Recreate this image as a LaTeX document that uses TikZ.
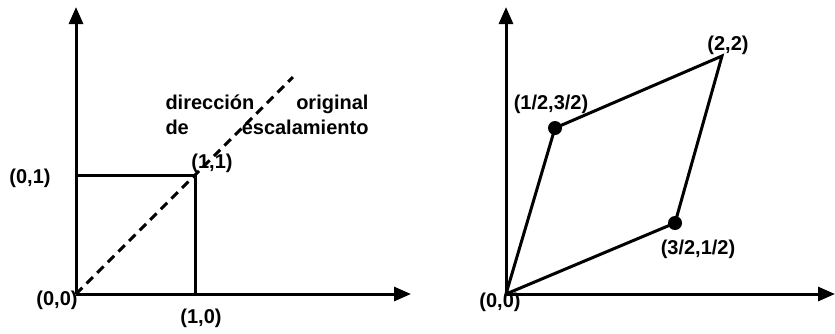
\documentclass[tikz,border=0pt]{standalone}
\usepackage{fontspec}
\setmainfont{Liberation Sans}
\usetikzlibrary{arrows.meta}

\tikzset{
  lbl/.style={font=\bfseries\fontsize{20}{25}\selectfont, inner sep=0pt},
  dot/.style={circle, fill, minimum size=14pt, inner sep=0pt},
}

\begin{document}
\begin{tikzpicture}[x=1pt, y=-1pt, line width=3pt, >={Triangle[length=17pt,width=14pt]}]
    \useasboundingbox (0,0) rectangle (835,333);

    % left: unit square
    \coordinate (O) at (76,294);
    \coordinate (Xl) at (411,294);
    \coordinate (Yl) at (76,7);
    \coordinate (P10) at (195,294);
    \coordinate (P11) at (195,175);
    \coordinate (P01) at (76,175);
    \coordinate (D) at (293,77);
    \draw[->] (O) -- (Xl);
    \draw[->] (O) -- (Yl);
    \draw (P01) -- (P11) -- (P10);
    \draw[dash pattern=on 9pt off 6pt] (O) -- (D);

    \node[lbl] (l00) at (57,300) {(0,0)};
    \node[lbl] (l10) at (201,318) {(1,0)};
    \node[lbl] (l01) at (30,178) {(0,1)};
    \node[lbl] (l11) at (212,163) {(1,1)};
    \node[lbl, text width=203pt, align=left] (dir) at (267,115)
      {direcci\'on\hfill original\\de\hfill escalamiento};

    % right: sheared square
    \coordinate (Q) at (506,294);
    \coordinate (Xr) at (835,294);
    \coordinate (Yr) at (506,7);
    \coordinate (Q22) at (722,56);
    \node[dot] (a) at (555,128) {};
    \node[dot] (b) at (675,223) {};
    \draw[->] (Q) -- (Xr);
    \draw[->] (Q) -- (Yr);
    \draw (Q) -- (a.center) -- (Q22) -- (b.center) -- cycle;

    \node[lbl] (r00) at (500,302) {(0,0)};
    \node[lbl] (r22) at (728,45) {(2,2)};
    \node[lbl] (ra) at (551,104) {(1/2,3/2)};
    \node[lbl] (rb) at (698,249) {(3/2,1/2)};
  \end{tikzpicture}
\end{document}
